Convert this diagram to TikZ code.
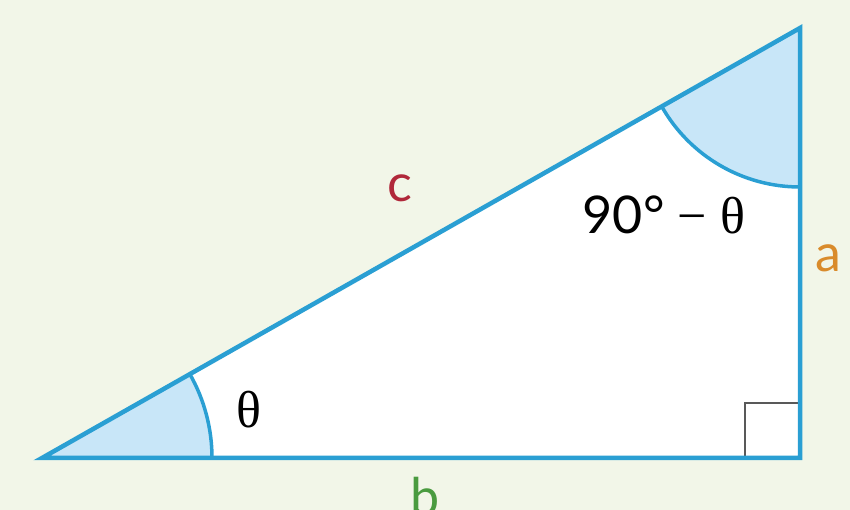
\documentclass[tikz,border=0pt]{standalone}
\usepackage{fontspec}
\setmainfont{Lato}
\newfontfamily\greekfont{Liberation Serif}
\usetikzlibrary{calc}
\definecolor{bgcol}{HTML}{F2F6E8}
\definecolor{sidecol}{HTML}{2A9FD3}
\definecolor{wedgecol}{HTML}{C8E6F8}
\definecolor{ccol}{HTML}{B0283A}
\definecolor{acol}{HTML}{D98B2B}
\definecolor{bcol}{HTML}{4A9B3F}
\tikzset{
  side/.style={draw=sidecol, line width=4.5pt, line join=miter},
  arcline/.style={draw=sidecol, line width=3.5pt},
  lbl/.style={font=\fontsize{52}{60}\selectfont, inner sep=0pt}
}
\begin{document}
\begin{tikzpicture}[x=1pt,y=1pt]
    \fill[bgcol] (0,0) rectangle (850,510);
    \useasboundingbox (0,0) rectangle (850,510);
    \coordinate (A) at (42,52);
    \coordinate (B) at (800,52);
    \coordinate (C) at (800,482);
    \fill[white] (A) -- (B) -- (C) -- cycle;
    % angle wedges
    \fill[wedgecol] (A) -- ++(170,0) arc[start angle=0, end angle=29.57, radius=170] -- cycle;
    \fill[wedgecol] (C) -- ++(0,-159) arc[start angle=270, end angle=209.57, radius=159] -- cycle;
    \draw[arcline] ($(A)+(170,0)$) arc[start angle=0, end angle=29.57, radius=170];
    \draw[arcline] ($(C)+(0,-159)$) arc[start angle=270, end angle=209.57, radius=159];
    % right angle
    \draw[black!65, line width=2pt] ($(B)+(-55,0)$) -- ++(0,55) -- ++(55,0);
    \draw[side] (A) -- (B) -- (C) -- cycle;
    \node[lbl, text=ccol] (c) at (400,322) {c};
    \node[lbl, text=acol] (a) at (828,252) {a};
    \node[lbl, text=bcol, anchor=base] (b) at (425,-6) {b};
    \node[lbl] (theta) at (249,100) {\greekfont θ};
    \node[lbl] (comp) at (664,295) {90° {\greekfont − θ}};
\end{tikzpicture}
\end{document}
